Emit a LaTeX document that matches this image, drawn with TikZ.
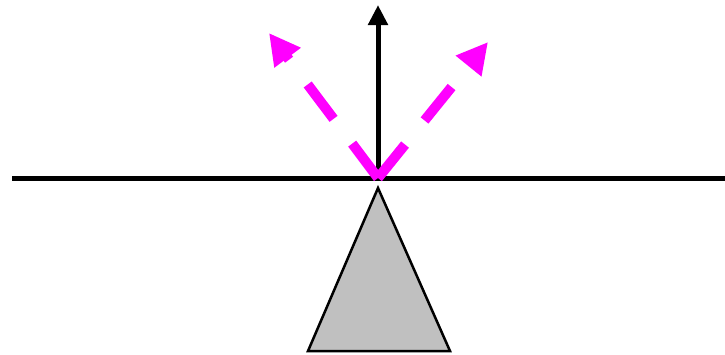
\documentclass[tikz,border=0pt]{standalone}
\usetikzlibrary{arrows.meta}
\definecolor{magentaA}{RGB}{255,0,255}
\definecolor{grayA}{RGB}{192,192,192}
\begin{document}
\begin{tikzpicture}[x=1pt,y=-1pt,
  surface/.style={line width=5pt},
  normalarrow/.style={line width=5pt,-{Triangle[length=20pt,width=19pt]}},
  raydash/.style={magentaA,line width=10pt,dash pattern=on 43pt off 31pt,
     -{Triangle[length=31pt,width=31pt]}},
  prism/.style={draw=black,fill=grayA,line width=2.5pt,line join=miter}]
\useasboundingbox (0,0) rectangle (725,354);
\coordinate (L) at (12,178);
\coordinate (R) at (725,178);
\coordinate (O) at (378,178);
\coordinate (U) at (378,5);
\coordinate (TL) at (269,33);
\coordinate (TR) at (488,42);
\coordinate (A) at (378,188);
\coordinate (B) at (308,351);
\coordinate (C) at (450,351);
\draw[prism] (A) -- (B) -- (C) -- cycle;
\draw[surface] (L) -- (R);
\draw[normalarrow] (O) -- (U);
\draw[raydash] (O) -- (TL);
\draw[raydash] (O) -- (TR);
\end{tikzpicture}
\end{document}
